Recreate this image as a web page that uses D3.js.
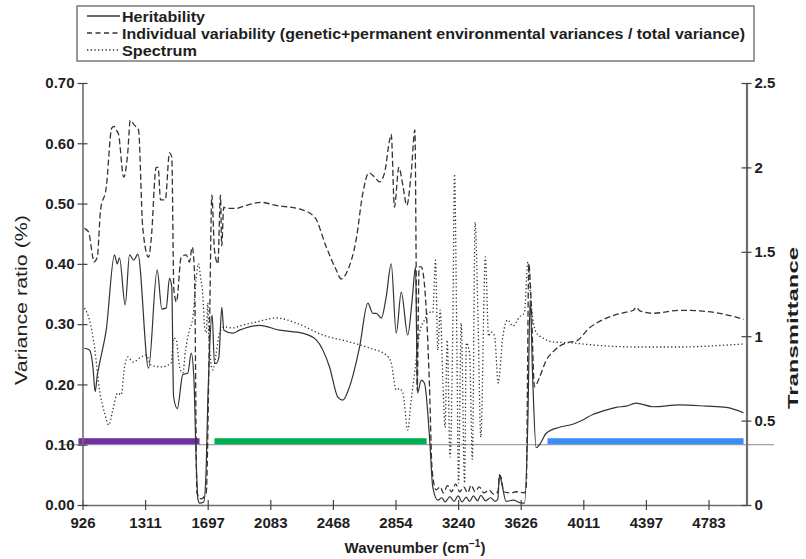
<!DOCTYPE html>
<html><head><meta charset="utf-8">
<script src="https://cdn.jsdelivr.net/npm/d3@7"></script>
<style>body{margin:0;background:#fff} text{font-family:"Liberation Sans",Arial,sans-serif;fill:#1e1e1e}</style>
</head><body><svg id="c" width="806" height="559"></svg>
<script>
// ---------- data ----------
const xTickLabels = ["926","1311","1697","2083","2468","2854","3240","3626","4011","4397","4783"];
const xTickValues = [926,1311.7,1697.4,2083.1,2468.8,2854.5,3240.2,3625.9,4011.6,4397.3,4783];
const yLeftTicks = [0,0.1,0.2,0.3,0.4,0.5,0.6,0.7];
const yRightTicks = [0,0.5,1,1.5,2,2.5];

const heritWn = [938,969,990,1004,1017,1031,1072,1123,1140,1154,1189,1216,1242,1267,1333,1386,1415,1442,1462,1476,1487,1510,1544,1575,1596,1612,1628,1638,1647,1673,1688,1698,1709,1725,1739,1750,1766,1784,1797,1852,1893,2017,2140,2281,2366,2448,2499,2530,2571,2633,2684,2715,2736,2767,2797,2828,2859,2890,2930,2957,2978,2990,3013,3033,3064,3084,3115,3140,3160,3190,3215,3240,3265,3290,3310,3335,3360,3380,3410,3440,3470,3485,3495,3506,3536,3580,3620,3649,3670,3684,3700,3721,3742,3783,3865,3947,4008,4070,4112,4173,4214,4276,4337,4440,4605,4769,4892,4999];
const heritVal = [0.26,0.257,0.23,0.188,0.215,0.235,0.29,0.415,0.40,0.41,0.332,0.415,0.406,0.416,0.227,0.39,0.325,0.327,0.376,0.362,0.18,0.16,0.216,0.219,0.252,0.212,0.06,0.008,0.003,0.005,0.06,0.174,0.26,0.315,0.235,0.235,0.245,0.328,0.29,0.285,0.29,0.298,0.29,0.285,0.274,0.229,0.179,0.174,0.196,0.262,0.335,0.318,0.318,0.31,0.345,0.40,0.285,0.353,0.282,0.34,0.395,0.186,0.207,0.202,0.113,0.03,0.008,0.012,0.005,0.014,0.006,0.015,0.005,0.013,0.006,0.015,0.007,0.016,0.007,0.012,0.006,0.01,0.05,0.04,0.006,0.008,0.004,0.003,0.141,0.34,0.207,0.095,0.1,0.119,0.129,0.134,0.141,0.15,0.154,0.159,0.162,0.164,0.169,0.163,0.166,0.164,0.162,0.153];

const indivWn = [938,963,990,996,1017,1037,1072,1106,1120,1134,1148,1180,1205,1220,1246,1271,1297,1333,1349,1380,1392,1407,1436,1462,1476,1489,1505,1534,1565,1585,1602,1616,1631,1657,1688,1709,1723,1739,1760,1776,1784,1796,1811,1873,1934,2027,2119,2263,2355,2428,2489,2520,2561,2612,2653,2690,2725,2756,2787,2818,2828,2848,2875,2900,2924,2951,2974,2982,2988,3000,3013,3043,3064,3080,3105,3130,3150,3175,3200,3225,3250,3275,3300,3320,3345,3370,3400,3430,3460,3485,3495,3506,3520,3560,3600,3649,3660,3676,3690,3711,3742,3783,3824,3906,3968,4050,4153,4276,4320,4337,4360,4440,4605,4728,4851,4999];
const indivVal = [0.459,0.453,0.41,0.403,0.411,0.489,0.526,0.625,0.628,0.622,0.615,0.544,0.585,0.638,0.63,0.622,0.461,0.411,0.44,0.56,0.56,0.506,0.506,0.584,0.577,0.357,0.337,0.411,0.415,0.403,0.428,0.385,0.02,0.01,0.02,0.3,0.514,0.423,0.40,0.514,0.43,0.494,0.492,0.492,0.497,0.502,0.497,0.491,0.478,0.428,0.39,0.375,0.39,0.44,0.517,0.551,0.544,0.536,0.551,0.605,0.615,0.494,0.56,0.53,0.497,0.55,0.622,0.39,0.19,0.395,0.395,0.328,0.196,0.058,0.025,0.03,0.02,0.032,0.022,0.035,0.022,0.03,0.02,0.033,0.022,0.03,0.02,0.025,0.018,0.022,0.05,0.045,0.022,0.02,0.022,0.02,0.03,0.40,0.34,0.196,0.212,0.24,0.254,0.269,0.272,0.294,0.31,0.32,0.323,0.328,0.322,0.318,0.323,0.322,0.318,0.308];

const specWn = [938,969,1000,1031,1062,1088,1113,1143,1164,1185,1205,1236,1288,1318,1349,1411,1472,1488,1503,1524,1544,1561,1585,1606,1627,1641,1653,1667,1678,1688,1698,1704,1729,1750,1770,1801,1852,1914,1996,2119,2243,2407,2571,2694,2797,2828,2859,2879,2900,2930,2951,2972,3002,3033,3060,3084,3101,3115,3130,3146,3160,3173,3191,3208,3218,3232,3243,3259,3280,3291,3311,3328,3345,3363,3380,3408,3428,3444,3465,3487,3516,3546,3577,3618,3649,3670,3690,3721,3762,3824,3947,4050,4153,4358,4605,4851,4999];
const specVal = [1.167,1.096,0.936,0.68,0.545,0.474,0.563,0.664,0.652,0.818,0.877,0.847,0.877,0.889,0.829,0.818,0.841,0.989,0.98,0.818,0.782,0.918,1.037,1.108,1.35,1.43,1.35,1.25,1.055,1.02,1.197,1.0,0.80,0.9,1.019,1.055,1.049,1.066,1.084,1.108,1.078,1.007,0.966,0.93,0.889,0.841,0.681,0.69,0.663,0.444,0.622,0.782,1.019,1.096,1.143,1.14,1.45,0.918,1.155,0.74,0.46,0.977,0.284,1.1,1.96,1.0,0.13,1.078,0.13,0.96,0.9,0.27,1.675,1.1,0.403,1.47,1.0,1.025,1.0,0.723,1.0,1.096,1.06,1.114,1.14,1.44,1.19,1.022,0.989,0.966,0.96,0.95,0.942,0.936,0.936,0.945,0.954];

const bandStart = [901,1739,3791];
const bandEnd = [1647,3046,4999];
const bandColors = ["#7030a0","#00b050","#3a8ef2"];
const bandLevel = 0.10;

const legendLabels = ["Heritability","Individual variability (genetic+permanent environmental variances / total variance)","Spectrum"];

// ---------- chart ----------
const svg = d3.select("#c");
const pLeft = 82.5, pRight = 746.5, pTop = 83, pBottom = 505;
const x = d3.scaleLinear().domain([926, 5017]).range([pLeft, pRight]);
const yL = d3.scaleLinear().domain([0, 0.7]).range([pBottom, pTop]);
const yR = d3.scaleLinear().domain([0, 2.5]).range([pBottom, pTop]);

// baseline at 0.10
svg.append("line").attr("x1", 62).attr("x2", 774)
  .attr("y1", yL(bandLevel)).attr("y2", yL(bandLevel))
  .attr("stroke", "#8a8a9a").attr("stroke-width", 1);

// colored bands
svg.selectAll("rect.band").data(bandStart).join("rect")
  .attr("class","band")
  .attr("x", d => x(d)).attr("width", (d,i) => x(bandEnd[i]) - x(d))
  .attr("y", yL(bandLevel) - 6.5).attr("height", 6)
  .attr("fill", (d,i) => bandColors[i]);

// series
const mk = (wn, vals, ys) => wn.map((w,i) => [x(w), ys(vals[i])]).filter(p => isFinite(p[0]) && isFinite(p[1]));
const line = d3.line().curve(d3.curveMonotoneX);
svg.append("path").attr("d", line(mk(specWn, specVal, yR)))
  .attr("fill","none").attr("stroke","#333").attr("stroke-width",1.3).attr("stroke-dasharray","1.3,2.4");
svg.append("path").attr("d", line(mk(indivWn, indivVal, yL)))
  .attr("fill","none").attr("stroke","#333").attr("stroke-width",1.3).attr("stroke-dasharray","6,3");
svg.append("path").attr("d", line(mk(heritWn, heritVal, yL)))
  .attr("fill","none").attr("stroke","#333").attr("stroke-width",1.2);

// axes
function styleAxis(g, horiz){
  g.select(".domain").attr("stroke","#6e6e6e").attr("stroke-width",1.6);
  g.selectAll(".tick line").attr("stroke","#444").attr("stroke-width",1.2);
  if (horiz) g.selectAll(".tick line").attr("y1",-5).attr("y2",5);
  else g.selectAll(".tick line").attr("x1",-5).attr("x2",5);
  g.selectAll(".tick text").attr("font-size",15).attr("font-weight","bold").attr("fill","#1e1e1e")
    .style("font-family","'Liberation Sans',Arial,sans-serif");
}
const gx = svg.append("g").attr("transform",`translate(0,${pBottom})`)
  .call(d3.axisBottom(x).tickValues(xTickValues).tickFormat((d,i)=>xTickLabels[i]).tickSize(0).tickPadding(12).tickSizeOuter(0));
styleAxis(gx, true);
const gl = svg.append("g").attr("transform",`translate(${pLeft},0)`)
  .call(d3.axisLeft(yL).tickValues(yLeftTicks).tickFormat(d3.format(".2f")).tickSize(0).tickPadding(8).tickSizeOuter(0));
styleAxis(gl, false);
const gr = svg.append("g").attr("transform",`translate(${pRight},0)`)
  .call(d3.axisRight(yR).tickValues(yRightTicks).tickFormat(d => String(d)).tickSize(0).tickPadding(8).tickSizeOuter(0));
styleAxis(gr, false);
gr.select(".domain").attr("stroke-width",2.2);

// axis titles
svg.append("text").attr("transform",`translate(27,300) rotate(-90)`)
  .attr("text-anchor","middle").attr("font-size",16)
  .attr("textLength",170).attr("lengthAdjust","spacingAndGlyphs").text("Variance ratio (%)");
svg.append("text").attr("transform",`translate(798,328) rotate(-90)`)
  .attr("text-anchor","middle").attr("font-size",15.5).attr("font-weight","bold")
  .attr("textLength",162).attr("lengthAdjust","spacingAndGlyphs").text("Transmittance");
const xt = svg.append("text").attr("x", 415).attr("y", 553).attr("text-anchor","middle")
  .attr("font-size",15).attr("font-weight","bold");
xt.append("tspan").text("Wavenumber (cm");
xt.append("tspan").attr("dy",-6).attr("font-size",10).text("−1");
xt.append("tspan").attr("dy",6).text(")");

// legend
svg.append("rect").attr("x",77).attr("y",6).attr("width",677).attr("height",55)
  .attr("fill","#fff").attr("stroke","#7a7a7a").attr("stroke-width",1.5);
const dashes = [null, "5,3.5", "1.3,2.4"];
const widths = [83, 623, 75];
legendLabels.forEach((lab,i) => {
  const yy = 16 + i*17;
  const ln = svg.append("line").attr("x1",87).attr("x2",120).attr("y1",yy).attr("y2",yy)
    .attr("stroke","#333").attr("stroke-width",1.3);
  if (dashes[i]) ln.attr("stroke-dasharray", dashes[i]);
  svg.append("text").attr("x",122).attr("y",yy+6).attr("font-size",14.5).attr("font-weight","bold")
    .attr("textLength", widths[i]).attr("lengthAdjust","spacingAndGlyphs").text(lab);
});
</script></body></html>
